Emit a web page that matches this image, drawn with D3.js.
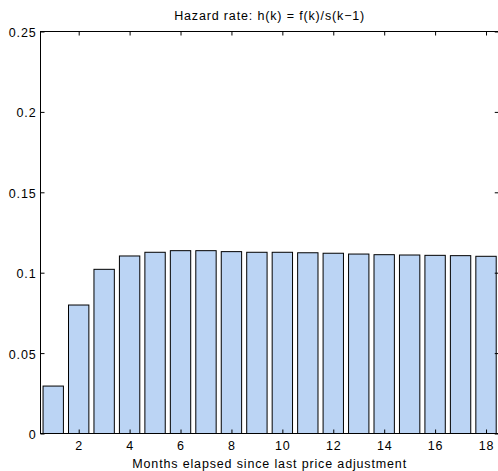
<!DOCTYPE html>
<html>
<head>
<meta charset="utf-8">
<script src="https://cdn.jsdelivr.net/npm/d3@7"></script>
<style>
  body { margin: 0; background: #fff; }
  svg { display: block; font-family: "Liberation Sans", Arial, sans-serif; }
  svg text { letter-spacing: 0.85px; }
</style>
</head>
<body>
<svg></svg>
<script>
let months = [1, 2, 3, 4, 5, 6, 7, 8, 9, 10, 11, 12, 13, 14, 15, 16, 17, 18];
let hazard = [0.0295, 0.0799, 0.1021, 0.1104, 0.1127, 0.1137, 0.1137, 0.1131, 0.1127,
              0.1127, 0.1124, 0.1121, 0.1116, 0.1112, 0.1110, 0.1108, 0.1106, 0.1102];
let xTicks = [2, 4, 6, 8, 10, 12, 14, 16, 18];
let yTicks = [0, 0.05, 0.1, 0.15, 0.2, 0.25];

let width = 498;
let height = 471;
let plotLeft = 40.5;
let plotRight = 498.75;
let plotTop = 31.5;
let plotBottom = 433.5;
let fontSize = 12.5;

let svg = d3.select("svg")
    .attr("width", width)
    .attr("height", height);

let xScale = d3.scaleLinear()
    .domain([0.5, 18.5])
    .range([plotLeft, plotRight]);

let yScale = d3.scaleLinear()
    .domain([0, 0.25])
    .range([plotBottom, plotTop]);

// bars
svg.selectAll("rect.bar")
   .data(months)
   .enter()
   .append("rect")
   .attr("class", "bar")
   .attr("x", d => xScale(d - 0.4))
   .attr("width", xScale(0.8) - xScale(0))
   .attr("y", (d, i) => yScale(hazard[i]))
   .attr("height", (d, i) => yScale(0) - yScale(hazard[i]))
   .attr("fill", "#bbd4f4")
   .attr("stroke", "#000")
   .attr("stroke-width", 1);

// axes, ticks pointing inward
let xAxis = d3.axisBottom(xScale)
    .tickValues(xTicks)
    .tickSize(-4)
    .tickPadding(8)
    .tickFormat(d3.format("d"));

let yAxis = d3.axisLeft(yScale)
    .tickValues(yTicks)
    .tickSize(-4)
    .tickPadding(4)
    .tickFormat(d => d === 0 ? "0" : String(d));

svg.append("g")
   .attr("transform", `translate(0, ${plotBottom})`)
   .call(xAxis)
   .call(g => g.select(".domain").remove())
   .call(g => g.selectAll("text").attr("font-size", fontSize).attr("fill", "#000").attr("font-family", "Liberation Sans, Arial, sans-serif"));

svg.append("g")
   .attr("transform", `translate(${plotLeft}, 0)`)
   .call(yAxis)
   .call(g => g.select(".domain").remove())
   .call(g => g.selectAll("text").attr("font-size", fontSize).attr("fill", "#000").attr("dy", "0.4em").attr("font-family", "Liberation Sans, Arial, sans-serif"));

// mirrored ticks on top and right
svg.append("g")
   .attr("transform", `translate(0, ${plotTop})`)
   .call(d3.axisTop(xScale).tickValues(xTicks).tickSize(-4).tickFormat(""))
   .call(g => g.select(".domain").remove());

svg.append("g")
   .attr("transform", `translate(${plotRight}, 0)`)
   .call(d3.axisRight(yScale).tickValues(yTicks).tickSize(-4).tickFormat(""))
   .call(g => g.select(".domain").remove());

// box
svg.append("rect")
   .attr("x", plotLeft)
   .attr("y", plotTop)
   .attr("width", plotRight - plotLeft)
   .attr("height", plotBottom - plotTop)
   .attr("fill", "none")
   .attr("stroke", "#000")
   .attr("stroke-width", 1);

svg.selectAll(".tick line").attr("stroke", "#000");

// labels
svg.append("text")
   .attr("x", (plotLeft + plotRight) / 2)
   .attr("y", 20)
   .attr("text-anchor", "middle")
   .attr("font-size", fontSize)
   .text("Hazard rate: h(k) = f(k)/s(k\u22121)");

svg.append("text")
   .attr("x", (plotLeft + plotRight) / 2)
   .attr("y", 468)
   .attr("text-anchor", "middle")
   .attr("font-size", fontSize)
   .text("Months elapsed since last price adjustment");
</script>
</body>
</html>
